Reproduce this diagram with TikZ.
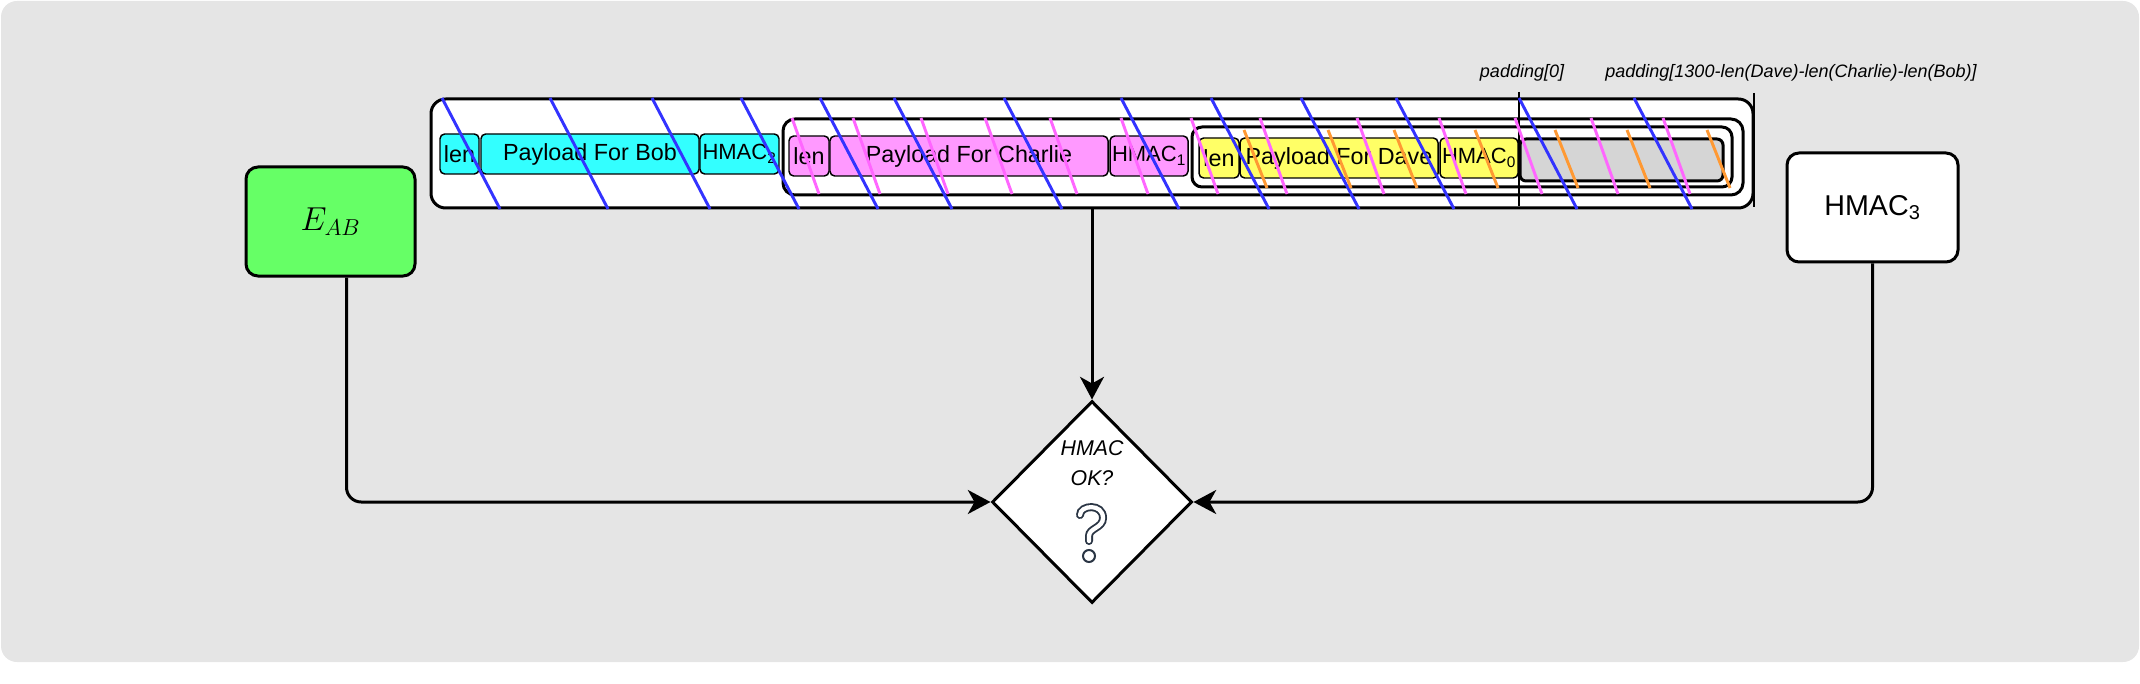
\documentclass[tikz,border=0pt]{standalone}
\usepackage{fontspec}
\setmainfont{Liberation Sans}
\usetikzlibrary{shapes.geometric,arrows.meta}
\definecolor{bggray}{HTML}{E5E5E5}
\definecolor{bobcyan}{HTML}{33FFFF}
\definecolor{charliepink}{HTML}{FF99FF}
\definecolor{daveyellow}{HTML}{FFFF66}
\definecolor{padgray}{HTML}{D5D5D5}
\definecolor{keygreen}{HTML}{66FF66}
\definecolor{hatchblue}{HTML}{3333FF}
\definecolor{hatchpink}{HTML}{FF66FF}
\definecolor{hatchorange}{HTML}{FF9933}
\definecolor{iconslate}{HTML}{2A3544}

\begin{document}
\begin{tikzpicture}[x=0.75pt,y=0.75pt,yscale=-1,xscale=1,
    frame/.style={draw, line width=2.25pt, fill=white, inner sep=0pt},
    cell/.style={draw, line width=1.1pt, rounded corners=3.5pt, inner sep=0pt, minimum height=30pt, font=\fontsize{17.5}{20}\selectfont},
    maccell/.style={cell, font=\fontsize{16.5}{18}\selectfont},
    conn/.style={line width=2.25pt, rounded corners=11pt, -{Stealth[length=17pt,width=18pt,inset=5pt]}},
    hatch/.style={line width=2.2pt}]
        \useasboundingbox (0,0) rectangle (2140,684);
        \fill [bggray, rounded corners=12pt] (1,1) rectangle (2139,662);

        \node [frame, rounded corners=11pt, minimum width=991.5pt, minimum height=81.75pt] (bobbox) at (1092,153.5) {};
        \node [cell, fill=bobcyan, minimum width=29.25pt] (boblen) at (459.5,154) {len};
        \node [cell, fill=bobcyan, minimum width=163.5pt] (bobpay) at (590,154) {Payload For Bob};
        \node [maccell, fill=bobcyan, minimum width=59.25pt] (bobmac) at (739.5,154) {HMAC\textsubscript{2}};

        \node [frame, rounded corners=9pt, minimum width=720pt, minimum height=57pt] (charliebox) at (1263,157) {};
        \node [cell, fill=charliepink, minimum width=30pt] (charlielen) at (809,156) {len};
        \node [cell, fill=charliepink, minimum width=208.5pt] (charliepay) at (969,156) {Payload For Charlie};
        \node [maccell, fill=charliepink, minimum width=58.5pt] (charliemac) at (1149,156) {HMAC\textsubscript{1}};

        \node [frame, rounded corners=7.5pt, minimum width=405pt, minimum height=45pt] (davebox) at (1462,157) {};
        \node [cell, fill=daveyellow, minimum width=30pt] (davelen) at (1219,158) {len};
        \node [cell, fill=daveyellow, minimum width=148.5pt] (davepay) at (1339,158) {Payload For Dave};
        \node [maccell, fill=daveyellow, minimum width=58.5pt] (davemac) at (1479,158) {HMAC\textsubscript{0}};
        \node [frame, fill=padgray, rounded corners=4.5pt, minimum width=152.25pt, minimum height=31.5pt] (padbox) at (1621.5,160) {};

        \draw [line width=1.1pt] (1519,92) -- (1519,206);
        \draw [line width=1.1pt] (1754,93) -- (1754,207);
        \node [font=\itshape\fontsize{13.5}{16}\selectfont] (padfirst) at (1522,73) {padding[0]};
        \node [font=\itshape\fontsize{13.5}{16}\selectfont] (padlast) at (1791,73) {padding[1300-len(Dave)-len(Charlie)-len(Bob)]};

        \foreach \t in {442,550,652,741,820,894,1004,1121,1211,1301,1396,1519,1634}
            \draw [hatch, hatchblue] (\t,98) -- ++(58,111);
        \foreach \t in {792,853,921,985,1050,1121,1191,1260,1357,1439,1515,1591,1663}
            \draw [hatch, hatchpink] (\t,118) -- ++(27,76);
        \foreach \t in {1244,1328,1394,1475,1555,1627,1707}
            \draw [hatch, hatchorange] (\t,130) -- ++(23,58);

        \node [frame, fill=keygreen, rounded corners=9pt, minimum width=126.75pt, minimum height=81.75pt, font=\fontsize{24}{28}\selectfont] (eab) at (330.5,221.5) {$E_{AB}$};
        \node [frame, rounded corners=9pt, minimum width=128.25pt, minimum height=81.75pt, font=\fontsize{21.5}{24}\selectfont] (hmacthree) at (1872.5,207.5) {HMAC\textsubscript{3}};
        \node [frame, shape=diamond, minimum width=150pt, minimum height=151.5pt] (check) at (1092,502) {};
        \node [font=\itshape\fontsize{16}{22.5}\selectfont, align=center] (checktxt) at (1092,463) {HMAC\\OK?};

        \draw [iconslate, line width=6pt, line cap=round] (1080,515) .. controls (1080,505) and (1103,503) .. (1103,518) .. controls (1103,528) and (1089,528) .. (1089,536) -- (1089,541);
        \draw [white, line width=3.2pt, line cap=round] (1080,515) .. controls (1080,505) and (1103,503) .. (1103,518) .. controls (1103,528) and (1089,528) .. (1089,536) -- (1089,541);
        \draw [iconslate, fill=white, line width=1.5pt] (1089,556) circle (4.5pt);

        \draw [conn] ([xshift=12pt]eab.south) |- (check.west);
        \draw [conn] (hmacthree.south) |- (check.east);
        \draw [conn] (bobbox.south) -- (check.north);
    \end{tikzpicture}
\end{document}
